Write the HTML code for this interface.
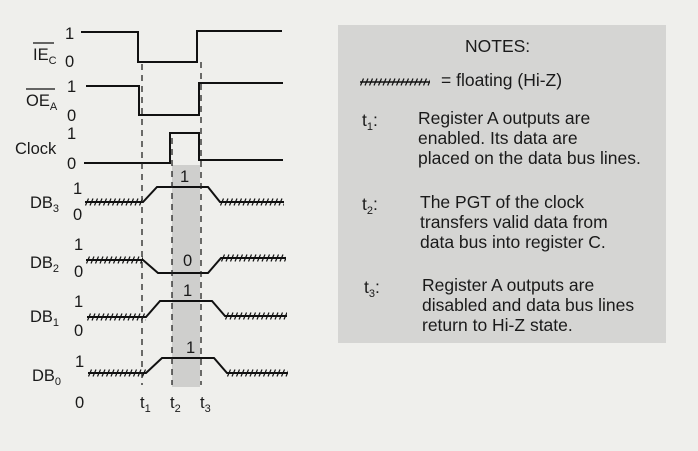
<!DOCTYPE html>
<html><head><meta charset="utf-8"><style>
html,body{margin:0;padding:0;background:#efefec;}
svg{display:block;}
text{font-family:"Liberation Sans",sans-serif;fill:#1a1a1a;}
</style></head><body>
<svg width="698" height="451" viewBox="0 0 698 451" xmlns="http://www.w3.org/2000/svg">
<defs>
<pattern id="h" x="0" y="0" width="4.5" height="10" patternUnits="userSpaceOnUse">
<line x1="0.5" y1="8.5" x2="3.5" y2="1.5" stroke="#111" stroke-width="1.2"/>
</pattern>
</defs>
<rect x="0" y="0" width="698" height="451" fill="#efefec"/>
<rect x="338" y="25" width="328" height="318" fill="#d5d5d3"/>
<rect x="172" y="165" width="28" height="222" fill="#cfcfcd"/>
<g stroke="#111" stroke-width="2" fill="none">
<polyline points="81,32 138,32 138,62 197,62 197,31 282,31"/>
<polyline points="86,86 139,86 139,115 199,115 199,83 283,83"/>
<polyline points="84,163 170,163 170,133 199,133 199,160 283,160"/>
<polyline points="85,202 143,202 157,187 208,187 220,202 284,202"/>
<polyline points="86,260 143,260 158,273 208,273 221,258 286,258"/>
<polyline points="87,317 146,317 160,301 212,301 225,316 287,316"/>
<polyline points="88,373 146,373 162,358 214,358 227,373 288,373"/>
</g>
<g fill="url(#h)">
<rect transform="translate(85,197)" width="58" height="10"/><rect transform="translate(220,197)" width="64" height="10"/>
<rect transform="translate(86,255)" width="57" height="10"/><rect transform="translate(221,253)" width="65" height="10"/>
<rect transform="translate(87,312)" width="59" height="10"/><rect transform="translate(225,311)" width="62" height="10"/>
<rect transform="translate(88,368)" width="58" height="10"/><rect transform="translate(227,368)" width="61" height="10"/>
<rect transform="translate(360,77)" width="70" height="10"/>
</g>
<line x1="360" y1="82" x2="430" y2="82" stroke="#111" stroke-width="1.5"/>
<g stroke="#222" stroke-width="1.3" stroke-dasharray="6,5">
<line x1="142" y1="64" x2="142" y2="385"/>
<line x1="172" y1="138" x2="172" y2="385"/>
<line x1="201" y1="62" x2="201" y2="385"/>
</g>
<g font-size="16.5">
<text x="65" y="39">1</text><text x="65" y="67">0</text>
<text x="33" y="60">IE<tspan font-size="11" dy="4">C</tspan></text>
<line x1="33" y1="43" x2="54" y2="43" stroke="#111" stroke-width="1.3"/>
<text x="67" y="92">1</text><text x="67" y="121">0</text>
<text x="26" y="106">OE<tspan font-size="11" dy="4">A</tspan></text>
<line x1="26" y1="89" x2="55" y2="89" stroke="#111" stroke-width="1.3"/>
<text x="67" y="139">1</text><text x="15" y="154">Clock</text><text x="67" y="169">0</text>
<text x="73" y="194">1</text><text x="30" y="208">DB<tspan font-size="11" dy="4">3</tspan></text><text x="73" y="220">0</text>
<text x="180" y="182">1</text>
<text x="74" y="250">1</text><text x="30" y="268">DB<tspan font-size="11" dy="4">2</tspan></text><text x="74" y="277">0</text>
<text x="183" y="266">0</text>
<text x="74" y="307">1</text><text x="30" y="322">DB<tspan font-size="11" dy="4">1</tspan></text><text x="74" y="336">0</text>
<text x="183" y="296">1</text>
<text x="75" y="367">1</text><text x="32" y="381">DB<tspan font-size="11" dy="4">0</tspan></text><text x="75" y="408">0</text>
<text x="186" y="353">1</text>
<text x="140" y="408">t<tspan font-size="11" dy="4">1</tspan></text>
<text x="170" y="408">t<tspan font-size="11" dy="4">2</tspan></text>
<text x="200" y="408">t<tspan font-size="11" dy="4">3</tspan></text>
</g>
<g font-size="17.5">
<text x="465" y="52">NOTES:</text>
<text x="441" y="86">= floating (Hi-Z)</text>
<text x="362" y="126">t<tspan font-size="11" dy="4">1</tspan><tspan dy="-4">:</tspan></text>
<text x="418" y="124">Register A outputs are</text>
<text x="418" y="144">enabled. Its data are</text>
<text x="418" y="164">placed on the data bus lines.</text>
<text x="362" y="210">t<tspan font-size="11" dy="4">2</tspan><tspan dy="-4">:</tspan></text>
<text x="420" y="208">The PGT of the clock</text>
<text x="420" y="228">transfers valid data from</text>
<text x="420" y="248">data bus into register C.</text>
<text x="364" y="293">t<tspan font-size="11" dy="4">3</tspan><tspan dy="-4">:</tspan></text>
<text x="422" y="291">Register A outputs are</text>
<text x="422" y="311">disabled and data bus lines</text>
<text x="422" y="331">return to Hi-Z state.</text>
</g>
</svg>
</body></html>
